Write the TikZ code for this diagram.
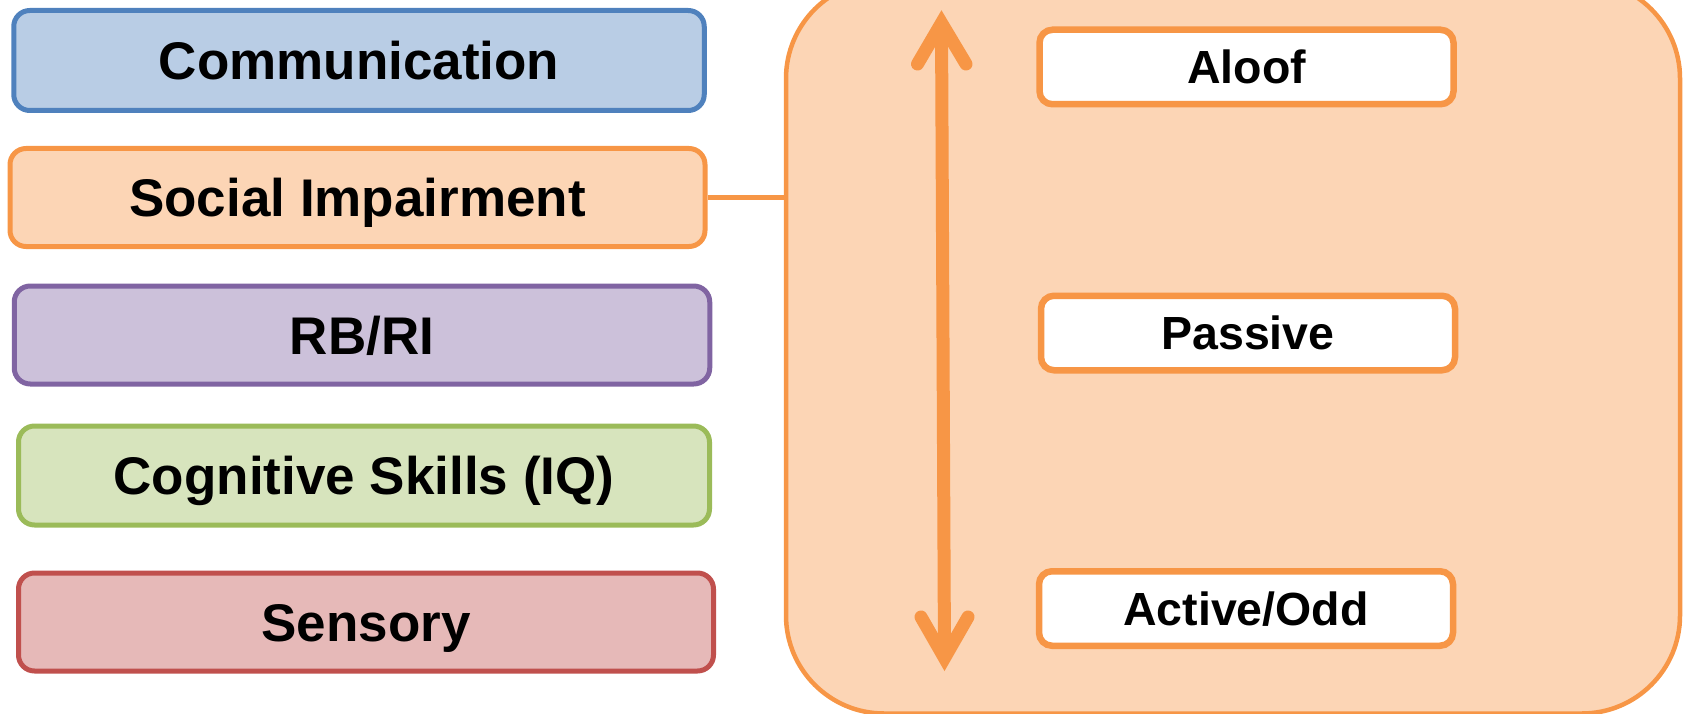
\documentclass[tikz,border=0pt]{standalone}
\usepackage{fontspec}
\setmainfont{Liberation Sans}

% Office-style palette
\definecolor{commFill}{HTML}{B9CDE5}\definecolor{commLine}{HTML}{4F81BD}
\definecolor{socFill}{HTML}{FCD5B5}\definecolor{socLine}{HTML}{F79646}
\definecolor{rbFill}{HTML}{CCC1DA}\definecolor{rbLine}{HTML}{8064A2}
\definecolor{cogFill}{HTML}{D7E4BD}\definecolor{cogLine}{HTML}{9BBB59}
\definecolor{senFill}{HTML}{E6B9B8}\definecolor{senLine}{HTML}{C0504D}

\tikzset{
  areabox/.style={draw, rectangle, rounded corners=16pt, line width=5pt,
    inner sep=0pt, text height=38pt, text depth=0pt,
    font=\fontsize{53}{60}\selectfont\bfseries},
  typebox/.style={draw=socLine, fill=white, rectangle, rounded corners=13pt,
    line width=6.5pt, inner sep=0pt, text height=33.3pt, text depth=0pt,
    minimum width=414pt, minimum height=74.5pt,
    font=\fontsize{46.5}{52}\selectfont\bfseries},
  panelbox/.style={draw=socLine, fill=socFill, rectangle, rounded corners=98pt,
    line width=4.5pt, inner sep=0pt},
  linkline/.style={draw=socLine, line width=5pt},
  spineline/.style={draw=socLine, line width=13pt},
  barbline/.style={draw=socLine, line width=13pt, line cap=round, line join=miter}
}

\begin{document}
\begin{tikzpicture}[x=1pt, y=-1pt]
  \useasboundingbox (0,0) rectangle (1689,714);
  \clip (0,0) rectangle (1689,714);

  % left column of areas
  \node[areabox, draw=commLine, fill=commFill, minimum width=690.5pt, minimum height=100pt]
    (comm) at (359,60.5) {Communication};
  \node[areabox, draw=socLine, fill=socFill, minimum width=695pt, minimum height=98pt]
    (social) at (357.5,197.5) {Social Impairment};
  \node[areabox, draw=rbLine, fill=rbFill, minimum width=695.5pt, minimum height=98pt]
    (rbri) at (362,335) {RB/RI};
  \node[areabox, draw=cogLine, fill=cogFill, minimum width=691pt, minimum height=99pt]
    (cog) at (364,475.5) {Cognitive Skills (IQ)};
  \node[areabox, draw=senLine, fill=senFill, minimum width=695pt, minimum height=98pt]
    (sens) at (366,622) {Sensory};

  % social sub-types panel
  \node[panelbox, minimum width=894pt, minimum height=733pt] (pan) at (1233,347) {};
  \draw[linkline] (social.east) -- (social.east -| pan.west);

  \node[typebox] (aloof)   at (1246.5,67)  {Aloof};
  \node[typebox] (passive) at (1248,333)   {Passive};
  \node[typebox] (active)  at (1246,608.5) {Active/Odd};

  % double-headed spectrum arrow
  \coordinate (arrTop) at (941.5,23);
  \coordinate (arrBot) at (944.5,658);
  \draw[spineline] (arrTop) -- (arrBot);
  \draw[barbline] ([shift={(-24,41)}]arrTop) -- (arrTop) -- ([shift={(24.5,41)}]arrTop);
  \draw[barbline] ([shift={(-23.5,-41)}]arrBot) -- (arrBot) -- ([shift={(23.5,-41)}]arrBot);
\end{tikzpicture}
\end{document}
